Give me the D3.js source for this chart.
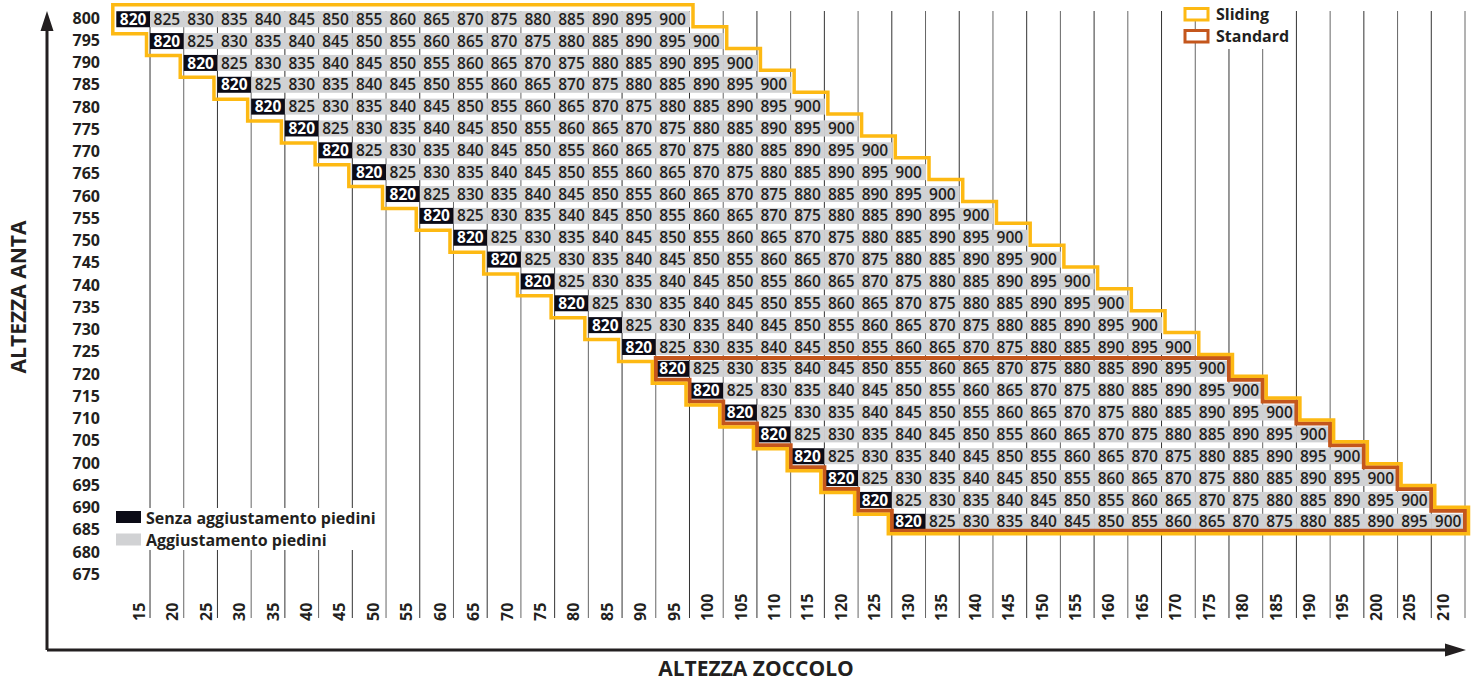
<!DOCTYPE html>
<html lang="it">
<head>
<meta charset="utf-8">
<title>Altezza anta / altezza zoccolo</title>
<script src="https://cdn.jsdelivr.net/npm/d3@7"></script>
<style>
  body { margin: 0; background: #fff; font-family: "Open Sans", Arial, sans-serif; }
  text { fill: #231f20; }
</style>
</head>
<body>
<script>
// tick labels of the two axes
var zoccolo = [15, 20, 25, 30, 35, 40, 45, 50, 55, 60, 65, 70, 75, 80, 85, 90, 95, 100, 105, 110,
               115, 120, 125, 130, 135, 140, 145, 150, 155, 160, 165, 170, 175, 180, 185, 190, 195, 200, 205, 210];
var anta = [800, 795, 790, 785, 780, 775, 770, 765, 760, 755, 750, 745, 740,
            735, 730, 725, 720, 715, 710, 705, 700, 695, 690, 685, 680, 675];

// rows of the table: altezza anta and the zoccolo where the row begins
var righeAnta    = [800, 795, 790, 785, 780, 775, 770, 765, 760, 755, 750, 745,
                    740, 735, 730, 725, 720, 715, 710, 705, 700, 695, 690, 685];
var righeZoccolo = [15, 20, 25, 30, 35, 40, 45, 50, 55, 60, 65, 70,
                    75, 80, 85, 90, 95, 100, 105, 110, 115, 120, 125, 130];

// values in each row, first one = senza aggiustamento piedini
var misure = [820, 825, 830, 835, 840, 845, 850, 855, 860, 865, 870, 875, 880, 885, 890, 895, 900];

var slidingDa = 800;   // sliding outline: rows 800 -> 685
var standardDa = 720;  // standard outline: rows 720 -> 685

var w = 1479, h = 681;
var giallo = "#fdb913", arancio = "#c4561c", nero = "#0b0b16", grigio = "#d1d2d4";

var svg = d3.select("body").append("svg")
  .attr("width", w)
  .attr("height", h);

//Scales
var x = d3.scaleBand().domain(zoccolo).range([116.3, 1465]);
var xLab = d3.scalePoint().domain(zoccolo).range([139, 1443]);
var y = d3.scaleBand().domain(anta).range([8.3, 8.3 + 26 * 21.85]);
var yLab = d3.scalePoint().domain(anta).range([18, 574]);
var bw = x.bandwidth(), bh = y.bandwidth();
var cellH = 16;

//vertical lines
svg.append("g").selectAll("line")
  .data(zoccolo)
  .enter().append("line")
  .attr("x1", function(d) { return x(d) + bw; })
  .attr("x2", function(d) { return x(d) + bw; })
  .attr("y1", 11)
  .attr("y2", 618)
  .attr("stroke", function(d, i) { return i % 2 ? "#666" : "#333"; })
  .attr("stroke-width", 1);

// row data
var righe = righeAnta.map(function(a, i) {
  var k0 = zoccolo.indexOf(righeZoccolo[i]);
  return {
    anta: a,
    celle: misure.map(function(m, j) { return { v: m, z: zoccolo[k0 + j], primo: j === 0, anta: a }; })
  };
});

// staircase outline around rows from..685
function scala(da, d, dBottom) {
  var r = righe.filter(function(r) { return r.anta <= da; });
  var n = r.length;
  var xL = function(i) { return x(r[i].celle[0].z); };
  var xR = function(i) { return x(r[i].celle[r[i].celle.length - 1].z) + bw; };
  var yT = function(i) { return y(r[i].anta); };
  var yB = function(i) { return y(r[i].anta) + bh; };
  var p = [];
  p.push([xL(0) - d, yT(0) - d], [xR(0) + d, yT(0) - d]);
  for (var i = 0; i < n - 1; i++) {
    p.push([xR(i) + d, yB(i) - d], [xR(i + 1) + d, yB(i) - d]);
  }
  p.push([xR(n - 1) + d, yB(n - 1) + dBottom], [xL(n - 1) - d, yB(n - 1) + dBottom]);
  for (var i = n - 1; i > 0; i--) {
    p.push([xL(i) - d, yT(i) + d], [xL(i - 1) - d, yT(i) + d]);
  }
  return "M" + p.join("L") + "Z";
}

//Cells
var g = svg.append("g").selectAll("g")
  .data(righe)
  .enter().append("g");

g.selectAll("rect")
  .data(function(d) { return d.celle; })
  .enter().append("rect")
  .attr("x", function(d) { return x(d.z); })
  .attr("y", function(d) { return y(d.anta) + bh / 2 - cellH / 2; })
  .attr("width", bw + 0.5)
  .attr("height", cellH)
  .attr("fill", function(d) { return d.primo ? nero : grigio; });

// outlines
svg.append("path")
  .attr("d", scala(standardDa, 0, -2))
  .attr("fill", "none")
  .attr("stroke", arancio)
  .attr("stroke-width", 4);

svg.append("path")
  .attr("d", scala(slidingDa, 3.5, 1))
  .attr("fill", "none")
  .attr("stroke", giallo)
  .attr("stroke-width", 3.5);

g.selectAll("text")
  .data(function(d) { return d.celle; })
  .enter().append("text")
  .attr("x", function(d) { return x(d.z) + bw / 2; })
  .attr("y", function(d) { return y(d.anta) + bh / 2; })
  .attr("dy", "0.36em")
  .attr("text-anchor", "middle")
  .attr("font-size", "15.5px")
  .attr("font-weight", function(d) { return d.primo ? 700 : 600; })
  .style("fill", function(d) { return d.primo ? "#fff" : "#231f20"; })
  .text(function(d) { return d.v; });

//Y labels
svg.append("g").selectAll("text")
  .data(anta)
  .enter().append("text")
  .attr("x", 100)
  .attr("y", function(d) { return yLab(d); })
  .attr("dy", "0.36em")
  .attr("text-anchor", "end")
  .attr("font-size", "16px")
  .attr("font-weight", 700)
  .text(function(d) { return d; });

//X labels
svg.append("g").selectAll("text")
  .data(zoccolo)
  .enter().append("text")
  .attr("transform", function(d) { return "translate(" + xLab(d) + ",621) rotate(-90)"; })
  .attr("dy", "0.36em")
  .attr("font-size", "16px")
  .attr("font-weight", 700)
  .text(function(d) { return d; });

// axes with arrows
svg.append("path")
  .attr("d", "M47,650V22M47,650H1450")
  .attr("fill", "none")
  .attr("stroke", "#231f20")
  .attr("stroke-width", 3);
svg.append("path")
  .attr("d", "M47,11L40.5,31L53.5,31Z M1466,650L1445,643.5L1445,656.5Z")
  .attr("fill", "#231f20");

svg.append("text")
  .attr("transform", "translate(18,297) rotate(-90)")
  .attr("dy", "0.36em")
  .attr("text-anchor", "middle")
  .attr("font-size", "21px")
  .attr("font-weight", 700)
  .text("ALTEZZA ANTA");

svg.append("text")
  .attr("x", 756)
  .attr("y", 668)
  .attr("dy", "0.36em")
  .attr("text-anchor", "middle")
  .attr("font-size", "21px")
  .attr("font-weight", 700)
  .text("ALTEZZA ZOCCOLO");

//Legend top right
var leg = [{ t: "Sliding", c: giallo }, { t: "Standard", c: arancio }];
svg.append("rect").attr("x", 1212).attr("y", 3).attr("width", 82).attr("height", 46).attr("fill", "#fff");
var lg = svg.append("g").selectAll("g").data(leg).enter().append("g")
  .attr("transform", function(d, i) { return "translate(0," + (i * 22) + ")"; });
lg.append("rect")
  .attr("x", 1185).attr("y", 8.5).attr("width", 23).attr("height", 11.5)
  .attr("fill", "#fff").attr("stroke", function(d) { return d.c; }).attr("stroke-width", 3);
lg.append("text")
  .attr("x", 1216).attr("y", 14.5).attr("dy", "0.36em")
  .attr("font-size", "16px").attr("font-weight", 700)
  .text(function(d) { return d.t; });

//Legend bottom left
var leg2 = [{ t: "Senza aggiustamento piedini", c: nero }, { t: "Aggiustamento piedini", c: grigio }];
svg.append("rect").attr("x", 144).attr("y", 508).attr("width", 236).attr("height", 42).attr("fill", "#fff");
var lg2 = svg.append("g").selectAll("g").data(leg2).enter().append("g")
  .attr("transform", function(d, i) { return "translate(0," + (i * 22.5) + ")"; });
lg2.append("rect")
  .attr("x", 116).attr("y", 511).attr("width", 25).attr("height", 12)
  .attr("fill", function(d) { return d.c; });
lg2.append("text")
  .attr("x", 146).attr("y", 518).attr("dy", "0.36em")
  .attr("font-size", "16px").attr("font-weight", 700)
  .text(function(d) { return d.t; });
</script>
</body>
</html>
